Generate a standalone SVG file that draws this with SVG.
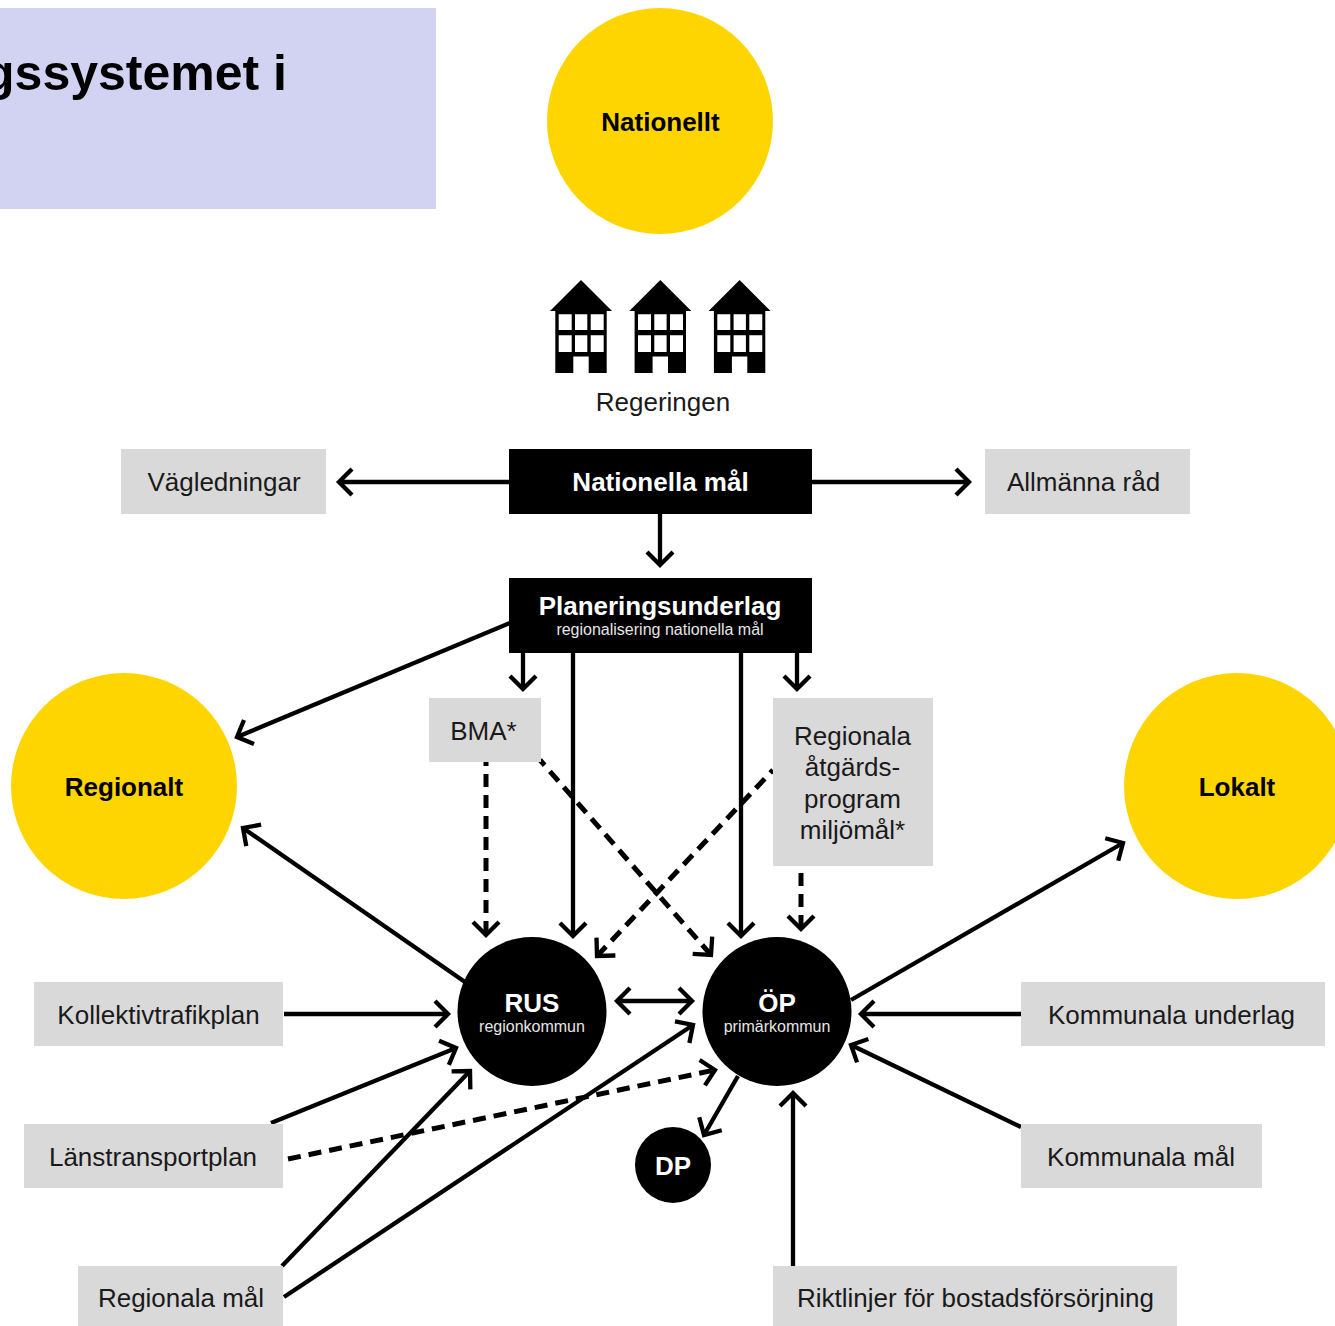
<svg xmlns="http://www.w3.org/2000/svg" width="1335" height="1326" viewBox="0 0 1335 1326">
<style>
text{font-family:"Liberation Sans",Arial,sans-serif;text-anchor:middle}
.g{fill:#d9d9d9}.y{fill:#ffd500}.k{fill:#000}
.t{font-size:26px;fill:#1a1a1a}
.b{font-weight:700;fill:#000;font-size:26px}
.w{font-weight:700;fill:#fff;font-size:26px}
.s{fill:#e6e6e6;font-size:16px}
.c line{stroke:#000;stroke-width:4.300;fill:none}
.c .e{marker-end:url(#a)}
.c .d{stroke-dasharray:13 8;stroke-width:5}
.h{fill:none;stroke:#000;stroke-width:4.300}
</style>
<defs>
<marker id="a" markerUnits="userSpaceOnUse" markerWidth="40" markerHeight="40" viewBox="-20 -20 40 40" refX="0" refY="0" orient="auto" overflow="visible"><path class="h" d="M-13,-13 L0,0 L-13,13"/></marker>
<marker id="s" markerUnits="userSpaceOnUse" markerWidth="40" markerHeight="40" viewBox="-20 -20 40 40" refX="0" refY="0" orient="auto-start-reverse" overflow="visible"><path class="h" d="M-13,-13 L0,0 L-13,13"/></marker>
<g id="house"><path class="k" fill-rule="evenodd" d="M581,280 L612,311 L606.7,311 L606.7,373 L588.7,373 L588.7,356.500 L573.300,356.500 L573.300,373 L555.300,373 L555.300,311 L550,311 Z M558.700,314.300 V330 H571.700 V314.300 Z M575,314.300 V330 H587.300 V314.300 Z M590.700,314.300 V330 H603.700 V314.300 Z M558.700,335.300 V352 H571.700 V335.300 Z M575,335.300 V352 H587.300 V335.300 Z M590.700,335.300 V352 H603.700 V335.300 Z"/></g>
</defs>
<rect width="1335" height="1326" fill="#fff"/>
<g id="title"><rect x="0" y="8" width="436" height="201" fill="#d2d2f3"/><text x="287" y="90" style="text-anchor:end;font-size:50px;font-weight:700;fill:#000">gssystemet i</text></g>
<g class="c" id="connectors">
<line class="e" x1="509" y1="482" x2="339" y2="482"/>
<line class="e" x1="812" y1="482" x2="969" y2="482"/>
<line class="e" x1="660" y1="514" x2="660" y2="565"/>
<line class="e" x1="510" y1="623" x2="237" y2="737"/>
<line class="e" x1="523" y1="653" x2="523" y2="689"/>
<line class="e" x1="573" y1="653" x2="573" y2="936"/>
<line class="e" x1="741" y1="653" x2="741" y2="936"/>
<line class="e" x1="797" y1="653" x2="797" y2="689"/>
<line class="e d" x1="486" y1="762" x2="486" y2="935" style="stroke-dashoffset:9"/>
<line class="e d" x1="540" y1="760" x2="711" y2="955" style="stroke-dashoffset:6"/>
<line class="e d" x1="773" y1="770" x2="597" y2="956" style="stroke-dashoffset:9"/>
<line class="e d" x1="801" y1="873" x2="801" y2="929"/>
<line class="e" x1="465" y1="982" x2="243" y2="828"/>
<line class="e" x1="284" y1="1014" x2="448" y2="1014"/>
<line class="e" x1="271" y1="1123" x2="456" y2="1048"/>
<line class="e" x1="282" y1="1266" x2="470" y2="1071"/>
<line class="e" x1="284" y1="1297" x2="693" y2="1025"/>
<line class="e d" x1="288" y1="1159" x2="715" y2="1070"/>
<line class="e" x1="617" y1="1001" x2="692" y2="1001" style="marker-start:url(#s)"/>
<line class="e" x1="851" y1="1000" x2="1123" y2="843"/>
<line class="e" x1="1021" y1="1014" x2="861" y2="1014"/>
<line class="e" x1="1021" y1="1127" x2="851" y2="1045"/>
<line class="e" x1="793" y1="1266" x2="793" y2="1093"/>
<line class="e" x1="738" y1="1076" x2="704" y2="1135"/>
</g>
<g id="nationellt"><circle class="y" cx="660" cy="121" r="113"/><text class="b" x="660.500" y="131">Nationellt</text></g>
<g id="regeringen"><use href="#house"/><use href="#house" x="79.300"/><use href="#house" x="158.600"/><text class="t" x="663" y="411">Regeringen</text></g>
<g id="vagledningar"><rect class="g" x="121" y="449" width="205" height="65"/><text class="t" x="224" y="491">Vägledningar</text></g>
<g id="nationella-mal"><rect class="k" x="509" y="449" width="303" height="65"/><text class="w" x="660.500" y="491">Nationella mål</text></g>
<g id="allmanna-rad"><rect class="g" x="985" y="449" width="205" height="65"/><text class="t" x="1083.500" y="491">Allmänna råd</text></g>
<g id="planeringsunderlag"><rect class="k" x="509" y="578" width="303" height="75"/><text class="w" x="660" y="615">Planeringsunderlag</text><text class="s" x="660" y="635">regionalisering nationella mål</text></g>
<g id="bma"><rect class="g" x="429" y="698" width="112" height="64"/><text class="t" x="483.500" y="740">BMA*</text></g>
<g id="atgardsprogram"><rect class="g" x="773" y="698" width="160" height="168"/><text class="t" x="852.500" y="745">Regionala</text><text class="t" x="852.500" y="776">åtgärds-</text><text class="t" x="852.500" y="808">program</text><text class="t" x="852.500" y="839">miljömål*</text></g>
<g id="regionalt"><circle class="y" cx="124" cy="786" r="113"/><text class="b" x="124" y="796">Regionalt</text></g>
<g id="lokalt"><circle class="y" cx="1237" cy="786" r="113"/><text class="b" x="1237" y="796">Lokalt</text></g>
<g id="rus"><circle class="k" cx="532" cy="1011.500" r="74.500"/><text class="w" x="532" y="1012">RUS</text><text class="s" x="532" y="1032">regionkommun</text></g>
<g id="op"><circle class="k" cx="777" cy="1011.500" r="74.500"/><text class="w" x="777" y="1012">ÖP</text><text class="s" x="777" y="1032">primärkommun</text></g>
<g id="dp"><circle class="k" cx="673" cy="1165" r="38"/><text class="w" x="673" y="1175">DP</text></g>
<g id="kollektivtrafikplan"><rect class="g" x="34" y="982" width="249" height="64"/><text class="t" x="158.500" y="1024">Kollektivtrafikplan</text></g>
<g id="lanstransportplan"><rect class="g" x="24" y="1124" width="259" height="64"/><text class="t" x="153" y="1166">Länstransportplan</text></g>
<g id="regionala-mal"><rect class="g" x="78" y="1266" width="205" height="60"/><text class="t" x="181" y="1307">Regionala mål</text></g>
<g id="riktlinjer"><rect class="g" x="773" y="1266" width="404" height="60"/><text class="t" x="975.500" y="1307">Riktlinjer för bostadsförsörjning</text></g>
<g id="kommunala-underlag"><rect class="g" x="1021" y="982" width="304" height="64"/><text class="t" x="1171.500" y="1024">Kommunala underlag</text></g>
<g id="kommunala-mal"><rect class="g" x="1021" y="1124" width="241" height="64"/><text class="t" x="1141" y="1166">Kommunala mål</text></g>
</svg>
